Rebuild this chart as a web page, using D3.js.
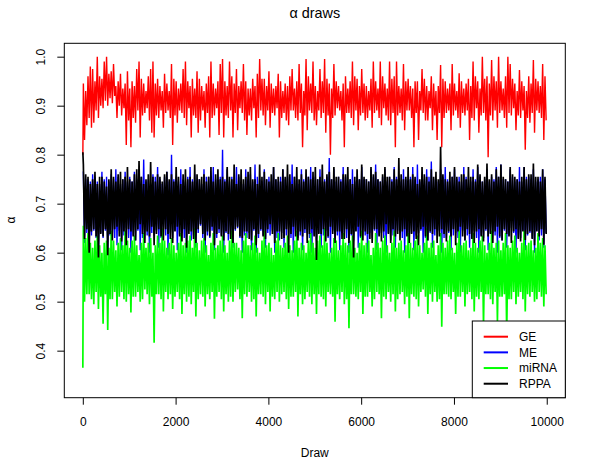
<!DOCTYPE html>
<html>
<head>
<meta charset="utf-8">
<script src="https://cdn.jsdelivr.net/npm/d3@7"></script>
<style>
  body { margin: 0; background: #fff; }
  svg { display: block; font-family: "Liberation Sans", Arial, sans-serif; }
</style>
</head>
<body>
<div id="chart"></div>
<script>
// series names, in plotting / legend order
const seriesNames = ["GE", "ME", "miRNA", "RPPA"];

// value of draw 1 for each series
const firstDraw = [0.80, 0.765, 0.365, 0.805];

// each block of 50 draws: its high and its low value
const drawsPerBlock = 50;

const geHigh = [
  .945,.93,.96,.98,.975,.95,1.0,.96,.955,.99,1.0,.965,.97,.985,.94,.95,.965,.935,.945,.97,
  .935,.95,.94,.975,.99,.955,.945,.93,.96,.975,.99,.945,.955,.94,.93,.965,.945,.93,.985,.955,
  .95,.935,.945,.975,.99,.95,.94,.955,.935,.97,.955,.94,.93,.945,.96,.99,.945,.935,.95,.985,
  .995,.95,.94,.99,.96,.945,.975,.94,.95,.985,.95,.935,.935,.955,.94,.965,.995,.955,.955,.94,
  .97,.945,.935,.94,.965,.95,.93,.945,.94,.96,.975,.935,.95,.985,.945,.93,.995,.96,.945,.99,
  .94,.93,.975,.95,.995,.955,.945,.935,.985,.95,.94,.93,.945,.96,.935,.95,.99,.96,.955,.94,
  .975,.945,.94,.93,.955,.99,.95,.935,.99,.96,.945,.935,.99,.955,.96,.99,.94,.935,.985,.95,
  .955,.94,.935,.95,.95,.93,.975,.955,.94,.93,.96,.945,.93,.94,.983,.955,.95,.935,.945,.985,
  .945,.93,.966,.95,.935,.945,.955,.94,.99,.96,.95,.935,1.0,.955,.96,.945,.993,.96,.95,1.0,
  .95,.935,.96,1.0,.985,.955,.945,.93,.973,.95,.94,.93,.96,.945,.993,.955,.95,.94,.985,.96
];
const geLow = [
  .83,.86,.875,.855,.865,.89,.875,.9,.895,.91,.9,.915,.905,.92,.875,.9,.88,.895,.82,.87,
  .815,.875,.865,.89,.835,.88,.885,.895,.87,.845,.835,.88,.875,.89,.855,.885,.89,.875,.82,.88,
  .865,.89,.885,.875,.86,.895,.835,.88,.875,.845,.87,.89,.855,.885,.835,.875,.88,.895,.84,.885,
  .835,.88,.875,.89,.835,.885,.85,.895,.885,.87,.84,.88,.87,.895,.835,.875,.89,.88,.86,.89,
  .855,.885,.88,.895,.835,.875,.885,.87,.86,.89,.89,.875,.87,.885,.815,.88,.85,.89,.885,.87,
  .86,.89,.875,.885,.845,.88,.8,.875,.88,.895,.89,.87,.815,.885,.885,.875,.86,.89,.85,.88,
  .885,.87,.875,.89,.855,.885,.89,.875,.86,.895,.88,.87,.86,.885,.815,.88,.885,.87,.85,.89,
  .89,.875,.815,.885,.83,.89,.885,.87,.87,.895,.85,.88,.83,.885,.815,.875,.885,.89,.85,.88,
  .89,.875,.855,.885,.88,.89,.83,.875,.87,.895,.845,.88,.885,.87,.795,.88,.87,.89,.855,.885,
  .89,.875,.855,.885,.88,.895,.85,.88,.875,.89,.81,.875,.865,.885,.845,.89,.885,.875,.83,.87
];

const meHigh = [
  .765,.75,.75,.745,.76,.755,.745,.74,.765,.75,.755,.745,.76,.75,.77,.755,.74,.75,.765,.745,
  .755,.745,.765,.75,.77,.755,.79,.745,.75,.74,.76,.755,.775,.75,.74,.755,.765,.745,.8,.75,
  .755,.745,.77,.75,.745,.755,.775,.75,.76,.745,.75,.74,.77,.755,.755,.745,.775,.75,.745,.755,
  .81,.75,.77,.745,.755,.75,.775,.755,.745,.74,.77,.75,.76,.745,.78,.755,.75,.745,.77,.75,
  .755,.745,.775,.75,.745,.755,.77,.75,.755,.745,.78,.755,.75,.74,.77,.75,.745,.755,.775,.745,
  .755,.75,.77,.745,.75,.755,.793,.75,.77,.745,.755,.75,.775,.755,.745,.75,.77,.745,.755,.75,
  .775,.75,.75,.745,.77,.755,.78,.75,.745,.755,.77,.745,.755,.75,.775,.755,.75,.745,.77,.75,
  .745,.755,.775,.75,.78,.745,.755,.75,.77,.755,.786,.75,.75,.745,.77,.755,.775,.75,.745,.755,
  .77,.75,.755,.745,.775,.755,.75,.745,.77,.75,.775,.755,.745,.75,.77,.745,.755,.75,.775,.755,
  .78,.75,.75,.745,.77,.755,.745,.75,.775,.745,.775,.755,.755,.75,.77,.745,.75,.755,.77,.75
];
const meLow = [
  .62,.64,.605,.635,.645,.63,.595,.64,.63,.645,.6,.635,.64,.63,.615,.645,.605,.635,.65,.63,
  .6,.635,.625,.645,.605,.63,.645,.635,.6,.64,.635,.645,.61,.63,.65,.635,.595,.64,.63,.645,
  .605,.635,.64,.63,.6,.645,.625,.635,.61,.64,.655,.63,.6,.635,.63,.645,.605,.63,.64,.635,
  .6,.64,.625,.635,.61,.645,.65,.63,.6,.635,.63,.64,.605,.645,.6,.63,.645,.635,.61,.64,
  .635,.645,.6,.63,.625,.64,.61,.635,.65,.63,.6,.645,.63,.635,.605,.64,.64,.63,.6,.635,
  .625,.64,.61,.635,.645,.63,.6,.645,.63,.635,.605,.64,.64,.63,.6,.635,.625,.645,.61,.63,
  .65,.635,.6,.64,.63,.645,.605,.635,.64,.63,.6,.64,.625,.635,.61,.645,.645,.63,.6,.635,
  .63,.64,.605,.635,.64,.645,.6,.63,.625,.64,.61,.635,.65,.645,.6,.63,.63,.64,.605,.635,
  .64,.63,.6,.645,.625,.635,.61,.64,.645,.63,.6,.635,.63,.645,.605,.64,.64,.635,.6,.63,
  .625,.645,.61,.635,.65,.64,.6,.63,.63,.645,.605,.635,.64,.63,.6,.645,.625,.635,.61,.64
];

const mirnaHigh = [
  .655,.63,.64,.62,.61,.625,.635,.615,.6,.62,.625,.61,.645,.625,.605,.62,.63,.615,.645,.625,
  .61,.625,.635,.615,.595,.62,.64,.61,.62,.63,.6,.615,.635,.62,.65,.625,.61,.62,.63,.615,
  .6,.62,.64,.615,.62,.625,.635,.61,.65,.62,.605,.625,.63,.615,.595,.62,.64,.61,.615,.625,
  .635,.615,.6,.625,.645,.62,.62,.61,.605,.625,.64,.615,.615,.62,.635,.61,.6,.625,.645,.615,
  .62,.61,.595,.625,.64,.615,.61,.62,.635,.615,.605,.625,.645,.61,.62,.615,.6,.625,.64,.62,
  .61,.625,.635,.615,.65,.62,.6,.61,.63,.625,.605,.615,.64,.62,.615,.625,.635,.61,.6,.62,
  .645,.615,.62,.625,.595,.61,.64,.62,.61,.625,.635,.615,.6,.62,.645,.61,.62,.625,.605,.615,
  .64,.62,.61,.625,.635,.615,.6,.62,.65,.61,.62,.625,.595,.615,.64,.62,.61,.625,.635,.61,
  .6,.62,.645,.615,.62,.625,.605,.61,.64,.62,.61,.625,.635,.615,.6,.62,.645,.61,.62,.625,
  .605,.62,.64,.615,.61,.625,.635,.61,.6,.62,.645,.615,.62,.625,.605,.61,.64,.62,.63,.615
];
const mirnaLow = [
  .5,.515,.515,.505,.495,.52,.485,.51,.455,.515,.442,.505,.505,.52,.49,.51,.52,.505,.5,.515,
  .478,.51,.51,.52,.5,.505,.525,.515,.495,.51,.416,.515,.515,.505,.48,.52,.505,.515,.485,.51,
  .52,.505,.475,.515,.5,.51,.495,.52,.47,.505,.515,.51,.49,.515,.505,.52,.465,.51,.52,.505,
  .48,.515,.5,.51,.5,.52,.525,.505,.466,.515,.51,.52,.5,.505,.47,.515,.515,.51,.495,.52,
  .48,.51,.505,.52,.5,.515,.52,.505,.485,.51,.51,.52,.47,.515,.495,.505,.52,.51,.495,.515,
  .475,.515,.51,.505,.49,.52,.515,.51,.459,.515,.505,.52,.495,.505,.446,.515,.515,.51,.505,.52,
  .475,.51,.51,.52,.49,.505,.52,.515,.466,.51,.505,.52,.5,.515,.48,.505,.515,.52,.495,.51,
  .466,.515,.51,.505,.49,.52,.525,.51,.475,.515,.5,.52,.5,.505,.449,.515,.515,.51,.505,.52,
  .475,.51,.51,.52,.49,.515,.52,.505,.48,.51,.505,.52,.449,.515,.515,.505,.495,.52,.459,.51,
  .51,.515,.432,.505,.505,.52,.495,.51,.52,.505,.48,.515,.51,.52,.5,.505,.52,.51,.49,.515
];

const rppaHigh = [
  .78,.76,.755,.74,.75,.765,.74,.755,.755,.745,.735,.75,.77,.755,.745,.76,.765,.75,.755,.775,
  .75,.745,.76,.77,.787,.755,.74,.75,.76,.785,.755,.745,.76,.755,.745,.76,.765,.75,.76,.745,
  .775,.755,.74,.76,.77,.75,.755,.745,.78,.76,.75,.755,.76,.745,.755,.775,.745,.76,.77,.75,
  .755,.745,.775,.755,.75,.78,.74,.76,.77,.75,.755,.765,.775,.75,.75,.74,.78,.755,.765,.75,
  .745,.76,.775,.75,.755,.745,.77,.755,.78,.76,.74,.755,.775,.75,.76,.745,.77,.755,.75,.765,
  .775,.75,.755,.78,.745,.76,.765,.75,.775,.755,.755,.745,.76,.76,.775,.75,.74,.755,.77,.75,
  .78,.755,.75,.745,.775,.76,.765,.75,.745,.76,.775,.755,.755,.745,.77,.75,.793,.76,.75,.755,
  .775,.75,.76,.755,.74,.75,.775,.76,.755,.745,.77,.755,.765,.75,.816,.76,.75,.745,.765,.755,
  .775,.755,.745,.76,.76,.75,.775,.755,.755,.745,.78,.76,.745,.755,.782,.75,.76,.745,.77,.755,
  .78,.755,.75,.745,.775,.76,.755,.75,.745,.755,.775,.75,.76,.76,.782,.755,.755,.745,.77,.755
];
const rppaLow = [
  .628,.648,.6,.643,.648,.633,.59,.638,.633,.648,.595,.638,.625,.648,.653,.633,.623,.643,.615,.648,
  .643,.633,.625,.648,.658,.638,.62,.643,.633,.653,.615,.638,.648,.633,.625,.648,.638,.628,.62,.643,
  .653,.633,.623,.648,.61,.638,.643,.628,.62,.648,.658,.638,.625,.643,.633,.653,.615,.638,.648,.633,
  .625,.643,.638,.628,.62,.648,.653,.633,.63,.643,.643,.628,.625,.648,.615,.638,.648,.633,.628,.648,
  .658,.638,.62,.643,.643,.628,.63,.648,.6,.638,.653,.633,.625,.643,.633,.648,.62,.638,.648,.633,
  .585,.638,.638,.648,.623,.633,.653,.638,.62,.643,.643,.628,.628,.648,.62,.638,.59,.643,.653,.633,
  .625,.643,.638,.628,.62,.648,.648,.633,.623,.643,.658,.638,.62,.648,.633,.638,.625,.643,.648,.633,
  .62,.638,.643,.628,.615,.648,.653,.633,.625,.643,.638,.648,.62,.633,.648,.638,.623,.643,.633,.648,
  .615,.643,.653,.633,.625,.648,.638,.628,.62,.643,.648,.633,.623,.648,.633,.638,.62,.643,.653,.633,
  .625,.648,.638,.633,.62,.643,.648,.628,.623,.643,.626,.638,.643,.628,.615,.643,.633,.648,.616,.638
];

const xTicks = [0, 2000, 4000, 6000, 8000, 10000];
const yTicks = [0.4, 0.5, 0.6, 0.7, 0.8, 0.9, 1.0];

const highs = [geHigh, meHigh, mirnaHigh, rppaHigh];
const lows = [geLow, meLow, mirnaLow, rppaLow];

const lineColor = ["#ff0000", "#0000ff", "#00ff00", "#000000"];
const lineWidth = [1.4, 1.4, 1.7, 1.7];

const width = 598, height = 463;
const margin = {top: 43.3, right: 32.7, bottom: 65.3, left: 64.3};

const svg = d3.select("#chart").append("svg")
    .attr("width", width)
    .attr("height", height);

const x = d3.scaleLinear()
    .domain([-399, 10400])
    .range([margin.left, width - margin.right]);

const y = d3.scaleLinear()
    .domain([0.304, 1.0273])
    .range([height - margin.bottom, margin.top]);

svg.append("clipPath").attr("id", "plotclip")
  .append("rect")
    .attr("x", margin.left).attr("y", margin.top)
    .attr("width", width - margin.left - margin.right)
    .attr("height", height - margin.top - margin.bottom);

// turn block highs/lows into a trace: draw 1, then high, low per block
function tracePoints(k) {
  const pts = [[1, firstDraw[k]]];
  highs[k].forEach((h, i) => {
    pts.push([i * drawsPerBlock + 12, h]);
    pts.push([i * drawsPerBlock + 37, lows[k][i]]);
  });
  return pts;
}

const line = d3.line()
    .x(d => x(d[0]))
    .y(d => y(d[1]));

const traces = svg.append("g").attr("clip-path", "url(#plotclip)");
seriesNames.forEach((name, k) => {
  traces.append("path")
      .datum(tracePoints(k))
      .attr("fill", "none")
      .attr("stroke", lineColor[k])
      .attr("stroke-width", lineWidth[k])
      .attr("stroke-linejoin", "bevel")
      .attr("d", line);
});

// box
svg.append("rect")
    .attr("x", margin.left).attr("y", margin.top)
    .attr("width", width - margin.left - margin.right)
    .attr("height", height - margin.top - margin.bottom)
    .attr("fill", "none")
    .attr("stroke", "#000")
    .attr("stroke-width", 1);

// axes
svg.append("g")
    .attr("transform", `translate(0,${height - margin.bottom})`)
    .call(d3.axisBottom(x).tickValues(xTicks).tickSize(7).tickPadding(13).tickFormat(d3.format("d")))
    .call(g => g.select(".domain").remove())
    .call(g => g.selectAll("text").attr("font-size", 12).attr("fill", "#000")
                .attr("font-family", "Liberation Sans, Arial, sans-serif"));

svg.append("g")
    .attr("transform", `translate(${margin.left},0)`)
    .call(d3.axisLeft(y).tickValues(yTicks).tickSize(7).tickFormat(d3.format(".1f")))
    .call(g => g.select(".domain").remove())
    .call(g => g.selectAll("text")
        .attr("x", 0).attr("y", -19).attr("dy", 0)
        .attr("transform", "rotate(-90)")
        .attr("text-anchor", "middle")
        .attr("font-size", 12).attr("fill", "#000")
        .attr("font-family", "Liberation Sans, Arial, sans-serif"));

// titles
svg.append("text")
    .attr("x", (margin.left + width - margin.right) / 2)
    .attr("y", 18)
    .attr("text-anchor", "middle")
    .attr("font-size", 14.4)
    .text("α draws");

svg.append("text")
    .attr("x", (margin.left + width - margin.right) / 2)
    .attr("y", 457)
    .attr("text-anchor", "middle")
    .attr("font-size", 12)
    .text("Draw");

svg.append("text")
    .attr("transform", "translate(15,220) rotate(-90)")
    .attr("text-anchor", "middle")
    .attr("font-size", 12)
    .text("α");

// legend
const legend = svg.append("g");
legend.append("rect")
    .attr("x", 472.3).attr("y", 321)
    .attr("width", width - margin.right - 472.3)
    .attr("height", height - margin.bottom - 321)
    .attr("fill", "#fff")
    .attr("stroke", "#000");

seriesNames.forEach((name, k) => {
  const ly = 336.7 + k * 15.67;
  legend.append("line")
      .attr("x1", 483.7).attr("x2", 508)
      .attr("y1", ly).attr("y2", ly)
      .attr("stroke", lineColor[k])
      .attr("stroke-width", 2);
  legend.append("text")
      .attr("x", 519).attr("y", ly)
      .attr("dy", "0.35em")
      .attr("font-size", 12)
      .text(name);
});
</script>
</body>
</html>
